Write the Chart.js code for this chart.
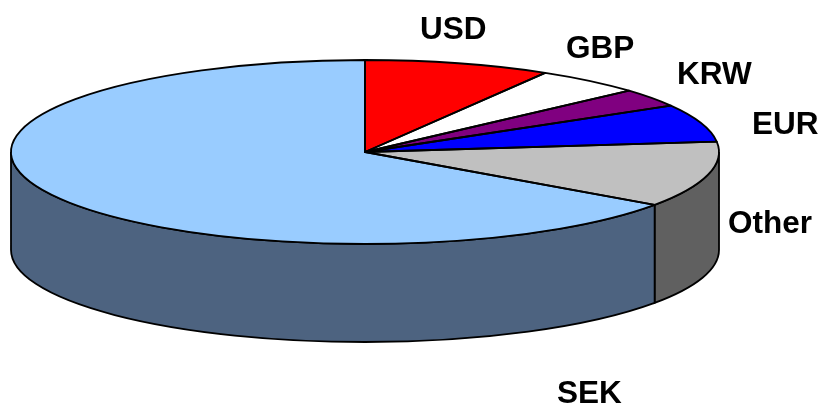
<html>
<head>
<meta charset="utf-8">
<script src="https://cdn.jsdelivr.net/npm/chart.js@4"></script>
<style>
  body { margin:0; background:#fff; }
  canvas { display:block; }
</style>
</head>
<body>
<canvas id="myChart" width="821" height="405"></canvas>
<script>
var categories = ['USD','GBP','KRW','EUR','Other','SEK'];
var shares = [8.5,4.9,3.2,6.6,11.55,65.25];
var topColors = ['#FF0000','#FFFFFF','#800080','#0000FF','#C0C0C0','#99CCFF'];
var sideColors = ['#800000','#808080','#400040','#000080','#606060','#4D6380'];

// where the flattened pie sits on the page
var cx = 365, cy = 152, rx = 354, ry = 92, depth = 98;
var lineW = 1.8;

// label anchors (left, baseline), same order as categories
var labelX = [420,566,677,752,728,557];
var labelY = [39,58,84,134,233,403];

function arcsOf(chart){ return chart.getDatasetMeta(0).data; }

var pie3d = {
    id:'pie3d',
    beforeDatasetsDraw:function(chart){
        // side wall, only the front half of the ellipse shows
        var ctx = chart.ctx;
        arcsOf(chart).forEach(function(arc,i){
            var a = Math.max(arc.startAngle,0), b = Math.min(arc.endAngle,Math.PI);
            if(b<=a) return;
            ctx.beginPath();
            ctx.ellipse(cx,cy,rx,ry,0,a,b);
            ctx.ellipse(cx,cy+depth,rx,ry,0,b,a,true);
            ctx.closePath();
            ctx.fillStyle = sideColors[i];
            ctx.fill();
            ctx.lineWidth = lineW;
            ctx.strokeStyle = '#000';
            ctx.stroke();
        });
    },
    beforeDatasetDraw:function(chart){
        var arc = arcsOf(chart)[0], R = arc.outerRadius, ctx = chart.ctx;
        ctx.save();
        ctx.translate(cx,cy);
        ctx.scale(rx/R,ry/R);
        ctx.translate(-arc.x,-arc.y);
    },
    afterDatasetDraw:function(chart){
        chart.ctx.restore();
    },
    afterDatasetsDraw:function(chart){
        // outlines go here so the squash does not thin them
        var ctx = chart.ctx;
        ctx.lineWidth = lineW;
        ctx.strokeStyle = '#000';
        ctx.lineJoin = 'round';
        arcsOf(chart).forEach(function(arc){
            ctx.beginPath();
            ctx.moveTo(cx,cy);
            ctx.ellipse(cx,cy,rx,ry,0,arc.startAngle,arc.endAngle);
            ctx.closePath();
            ctx.stroke();
        });
        ctx.font = 'bold 31.5px "Liberation Sans"';
        ctx.fillStyle = '#000';
        ctx.textAlign = 'left';
        ctx.textBaseline = 'alphabetic';
        categories.forEach(function(c,i){
            ctx.fillText(c,labelX[i],labelY[i]);
        });
    }
};

var chart = new Chart(document.getElementById('myChart').getContext('2d'),{
    type:'pie',
    data:{
        labels:categories,
        datasets:[{
            data:shares,
            backgroundColor:topColors,
            borderWidth:0,
            clip:false
        }]
    },
    options:{
        responsive:false,
        animation:false,
        plugins:{legend:{display:false},tooltip:{enabled:false}}
    },
    plugins:[pie3d]
});
</script>
</body>
</html>
